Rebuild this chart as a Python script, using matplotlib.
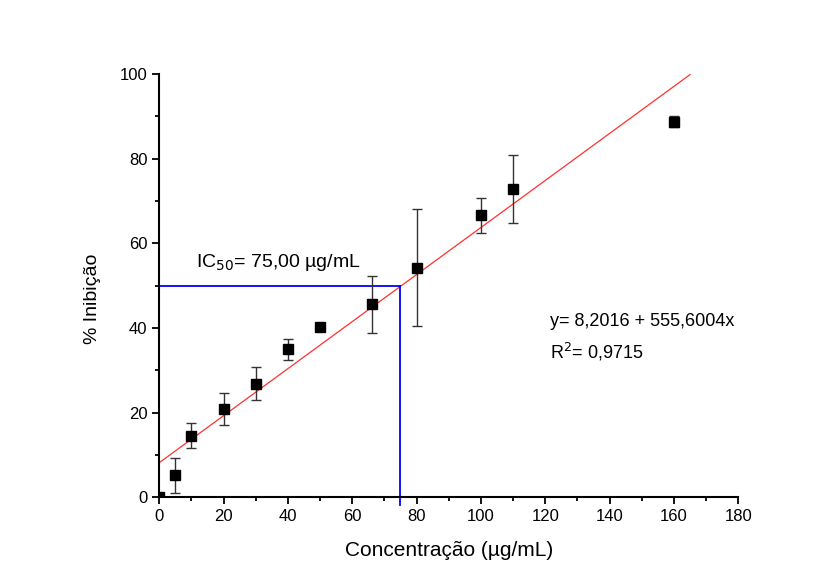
import matplotlib.pyplot as plt
from matplotlib.ticker import MultipleLocator

plt.rcParams['font.family'] = ['Liberation Sans', 'DejaVu Sans']

# Data
conc = [0, 5, 10, 20, 30, 40, 50, 66, 80, 100, 110, 160]
inib = [0, 5.2, 14.6, 20.9, 26.8, 35.0, 40.2, 45.6, 54.3, 66.6, 72.8, 88.8]
err = [0, 4.1, 2.9, 3.7, 3.9, 2.5, 0.3, 6.7, 13.9, 4.2, 8.0, 1.4]

# linear fit shown on the chart
intercept = 8.2016
slope = 555.6004 / 1000  # per ug/mL
fit_x = [0, 165]
fit_y = [intercept + slope * v for v in fit_x]

ic50 = 75.0

fig = plt.figure(figsize=(8.38, 5.88), dpi=100)
ax = fig.add_axes([0.19, 0.154, 0.691, 0.72])

ax.plot(fit_x, fit_y, color='#ff3030', lw=0.9, zorder=2)
ax.errorbar(conc, inib, yerr=err, fmt='s', color='black', ms=7,
            ecolor='#333333', elinewidth=1, capsize=3.5, capthick=1, zorder=3)

ax.plot([0, ic50], [50, 50], color='#0000ff', lw=1.3, zorder=2)
ax.plot([ic50, ic50], [-1.8, 50], color='#0000ff', lw=1.3, zorder=2, clip_on=False)

ax.text(11.5, 55.6, r'IC$_{50}$= 75,00 µg/mL', fontsize=14, va='center')
ax.text(121.5, 41.6, 'y= 8,2016 + 555,6004x', fontsize=13, va='center')
ax.text(121.5, 34.4, r'R$^2$= 0,9715', fontsize=13, va='center')

ax.set_xlim(0, 180)
ax.set_ylim(0, 100)
ax.xaxis.set_major_locator(MultipleLocator(20))
ax.xaxis.set_minor_locator(MultipleLocator(10))
ax.yaxis.set_major_locator(MultipleLocator(20))
ax.yaxis.set_minor_locator(MultipleLocator(10))
ax.tick_params(which='major', direction='out', length=5, width=1.3, labelsize=12)
ax.tick_params(which='minor', direction='out', length=3, width=1.3)

for side in ['top', 'right']:
    ax.spines[side].set_visible(False)
for side in ['left', 'bottom']:
    ax.spines[side].set_linewidth(1.5)

ax.set_xlabel('Concentração (µg/mL)', fontsize=15, labelpad=12)
ax.set_ylabel('% Inibição', fontsize=14)
ax.yaxis.set_label_coords(-0.1, 0.47)

fig.savefig('out.png', dpi=100)
